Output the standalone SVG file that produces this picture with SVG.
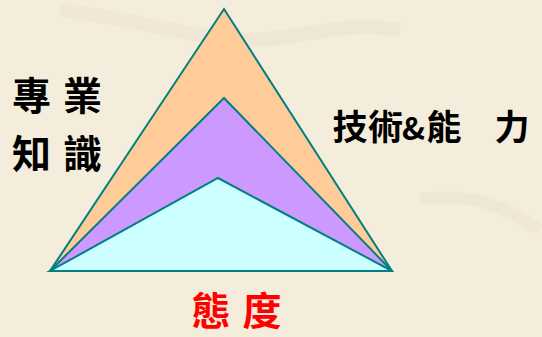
<svg xmlns="http://www.w3.org/2000/svg" width="542" height="337" viewBox="0 0 542 337">
<style>
.tri{stroke:#008080;stroke-width:2;stroke-linejoin:miter}
.lbl{font-family:"Noto Sans CJK TC","Noto Sans CJK SC",sans-serif;font-weight:700;text-anchor:middle}
.blk{fill:#000;font-size:39px}
.sk{fill:#000;font-size:35px}
.red{fill:#FF0000;font-size:39px}
</style>
<rect width="542" height="337" fill="#F5EDDC"/>
<g id="bg-texture" opacity="0.2">
<path d="M60 10 C140 20 200 40 250 40 C300 40 340 20 400 30" fill="none" stroke="#DCD2BE" stroke-width="14"/>
<path d="M420 200 C470 190 510 210 540 230" fill="none" stroke="#DCD2BE" stroke-width="12"/>
</g>
<g id="triangles">
<polygon id="knowledge" class="tri" fill="#FFCC99" points="224,9 392,271 50,271"/>
<polygon id="skills" class="tri" fill="#CC99FF" points="224,98 392,271 50,271"/>
<polygon id="attitude" class="tri" fill="#CCFFFF" points="218,178 392,271 50,271"/>
</g>
<g id="label-knowledge" class="lbl blk">
<text x="31.5" y="110">專</text>
<text x="82.5" y="110">業</text>
<text x="31.5" y="168">知</text>
<text x="82.5" y="168">識</text>
</g>
<g id="label-skills" class="lbl sk">
<text y="140"><tspan x="350">技</tspan><tspan x="385.5">術</tspan><tspan x="413.5" font-size="31">&amp;</tspan><tspan x="444">能</tspan><tspan x="512">力</tspan></text>
</g>
<g id="label-attitude" class="lbl red">
<text x="211" y="325">態</text>
<text x="262" y="325">度</text>
</g>
</svg>
